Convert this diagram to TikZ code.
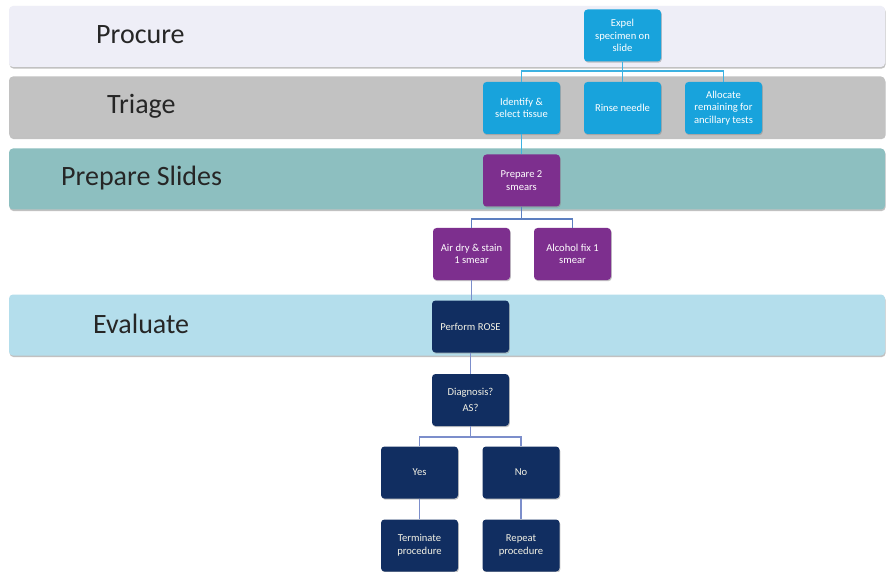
\documentclass[tikz,border=0pt]{standalone}
\usepackage{fontspec}
\setmainfont{Carlito}
\usetikzlibrary{shadows}
\definecolor{procurefill}{HTML}{EEEEF7}
\definecolor{triagefill}{HTML}{C2C2C2}
\definecolor{preparefill}{HTML}{8DBFC0}
\definecolor{evalfill}{HTML}{B4DEEC}
\definecolor{cyanbox}{HTML}{18A3DC}
\definecolor{purplebox}{HTML}{7D2F8E}
\definecolor{navybox}{HTML}{112E61}
\definecolor{cyanline}{HTML}{3DB2E2}
\definecolor{purpleline}{HTML}{5D7FC0}
\definecolor{navyline}{HTML}{7C8ECB}
\definecolor{lighttext}{HTML}{F3F1E4}
\definecolor{labeltext}{HTML}{262626}
\tikzset{
  band/.style={rounded corners=4pt, minimum height=61pt, minimum width=876pt,
    drop shadow={shadow xshift=0.6pt, shadow yshift=-1.6pt, fill=black!40, opacity=0.6}},
  bandlabel/.style={text=labeltext, inner sep=0pt, font=\fontsize{28}{32}\selectfont},
  box/.style={rounded corners=3.5pt, minimum width=77pt, minimum height=52pt,
    align=center, inner sep=2pt,
    font=\fontsize{10.6}{12.6}\selectfont,
    drop shadow={shadow xshift=0.8pt, shadow yshift=-1.2pt, fill=black!45, opacity=0.5}},
  cbox/.style={box, fill=cyanbox, text=white},
  pbox/.style={box, fill=purplebox, text=white},
  nbox/.style={box, fill=navybox, text=lighttext},
  cline/.style={draw=cyanline, line width=1.8pt},
  pline/.style={draw=purpleline, line width=1.8pt},
  nline/.style={draw=navyline, line width=1.8pt},
}
\begin{document}
\begin{tikzpicture}[x=1pt,y=-1pt]
\useasboundingbox (0,0) rectangle (886,572);
\fill[white] (0,0) rectangle (886,572);

% phase bands
\node[band, fill=procurefill] (bprocure) at (447,36.5) {};
\node[band, fill=triagefill] (btriage) at (447,107) {};
\node[band, fill=preparefill] (bprepare) at (447,179) {};
\node[band, fill=evalfill] (beval) at (447,325) {};

\node[bandlabel, anchor=west] (lprocure) at (96,35) {Procure};
\node[bandlabel, anchor=west] (ltriage) at (107,106) {Triage};
\node[bandlabel, anchor=west] (lprepare) at (61,178) {Prepare Slides};
\node[bandlabel, anchor=west] (leval) at (93,324) {Evaluate};

% process boxes
\node[cbox] (expel) at (622.5,35.5) {Expel\\specimen on\\slide};
\node[cbox] (ident) at (521.5,108) {Identify \&\\select tissue};
\node[cbox] (rinse) at (622.5,108) {Rinse needle};
\node[cbox] (alloc) at (723.5,108) {Allocate\\remaining for\\ancillary tests};
\node[pbox] (prep) at (521.5,180.5) {Prepare 2\\smears};
\node[pbox] (airdry) at (471.5,254) {Air dry \& stain\\1 smear};
\node[pbox] (alcohol) at (572.5,254) {Alcohol fix 1\\smear};
\node[nbox] (rose) at (470.5,326.5) {Perform ROSE};
\node[nbox] (diag) at (470.5,400) {Diagnosis?\\[3pt]AS?};
\node[nbox] (yes) at (419.5,472.5) {Yes};
\node[nbox] (no) at (521,472.5) {No};
\node[nbox] (term) at (419.5,545.5) {Terminate\\procedure};
\node[nbox] (repeat) at (521,545.5) {Repeat\\procedure};

% connectors
\path[cline] (expel.south) -- ++(0,9) -| (ident.north);
\path[cline] (expel.south) -- ++(0,9) -| (alloc.north);
\path[cline] (expel.south) -- (rinse.north);
\path[cline] (ident.south) -- (prep.north);
\path[pline] (prep.south) -- ++(0,12) -| (airdry.north);
\path[pline] (prep.south) -- ++(0,12) -| (alcohol.north);
\path[nline] (airdry.south) -- (rose.north -| airdry.south);
\path[nline] (rose.south) -- (diag.north);
\path[nline] (diag.south) -- ++(0,11) -| (yes.north);
\path[nline] (diag.south) -- ++(0,11) -| (no.north);
\path[nline] (yes.south) -- (term.north);
\path[nline] (no.south) -- (repeat.north);
\end{tikzpicture}
\end{document}
